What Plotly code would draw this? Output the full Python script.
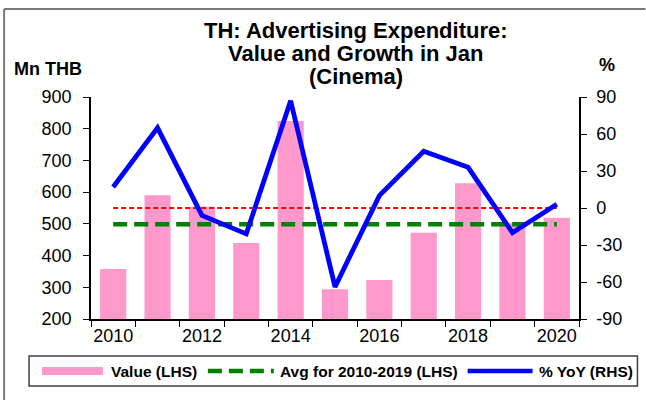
import plotly.graph_objects as go

# ---- data ----
years = ["2010", "2011", "2012", "2013", "2014", "2015", "2016", "2017", "2018", "2019", "2020"]
values_mn_thb = [358, 590, 554, 440, 824, 294, 323, 472, 628, 502, 519]
yoy_pct = [17, 65, -6, -21, 87, -64, 10, 46, 33, -20, 3]
avg_2010_2019 = 499
yoy_reference = 0
x_tick_text = ["2010", "", "2012", "", "2014", "", "2016", "", "2018", "", "2020"]
left_ticks = [200, 300, 400, 500, 600, 700, 800, 900]
right_ticks = [-90, -60, -30, 0, 30, 60, 90]
right_tick_text = ["-90", "-60", "-30", "0", "30", "60", "90"]

# ---- layout geometry (pixels) ----
W, H = 646, 400
PL, PR, PT, PB = 91, 579.5, 97, 319
FONT = "Liberation Sans, Arial, sans-serif"


def px(x):
    return (x - PL) / (PR - PL)


def py(y):
    return (PB - y) / (PB - PT)


fig = go.Figure()

fig.add_trace(go.Bar(
    x=years, y=values_mn_thb, name="Value (LHS)",
    marker=dict(color="#ff99cc", line=dict(width=0)),
    width=0.59, showlegend=False, yaxis="y",
))
fig.add_trace(go.Scatter(
    x=[years[0], years[-1]], y=[avg_2010_2019, avg_2010_2019],
    mode="lines", name="Avg for 2010-2019 (LHS)",
    line=dict(color="#008000", width=4.5, dash="14px,7px"),
    showlegend=False, yaxis="y",
))
fig.add_trace(go.Scatter(
    x=[years[0], years[-1]], y=[yoy_reference, yoy_reference],
    mode="lines", name="0%",
    line=dict(color="#ff0000", width=2, dash="5px,3px"),
    showlegend=False, yaxis="y2",
))
fig.add_trace(go.Scatter(
    x=years, y=yoy_pct, mode="lines", name="% YoY (RHS)",
    line=dict(color="#0000ff", width=4.8),
    showlegend=False, yaxis="y2",
))

shapes = []
annotations = []

# outer frame (left and top edges)
shapes.append(dict(type="line", xref="paper", yref="paper",
                   x0=px(4), x1=px(4), y0=py(9), y1=py(402),
                   line=dict(color="#7a7a7a", width=2)))
shapes.append(dict(type="line", xref="paper", yref="paper",
                   x0=px(4), x1=px(646), y0=py(9), y1=py(9),
                   line=dict(color="#7a7a7a", width=2)))

# title
title_lines = ["TH: Advertising Expenditure:", "Value and Growth in Jan", "(Cinema)"]
for i, t in enumerate(title_lines):
    annotations.append(dict(text="<b>%s</b>" % t, xref="paper", yref="paper",
                            x=px(356), y=py(30 + 23 * i), xanchor="center", yanchor="middle",
                            showarrow=False, font=dict(family=FONT, size=22, color="#000")))

# axis unit labels
annotations.append(dict(text="<b>Mn THB</b>", xref="paper", yref="paper",
                        x=px(48), y=py(69), xanchor="center", yanchor="middle",
                        showarrow=False, font=dict(family=FONT, size=18, color="#000")))
annotations.append(dict(text="<b>%</b>", xref="paper", yref="paper",
                        x=px(608), y=py(65), xanchor="center", yanchor="middle",
                        showarrow=False, font=dict(family=FONT, size=18, color="#000")))

# legend (drawn manually to match wide swatches)
LY = 371
shapes.append(dict(type="rect", xref="paper", yref="paper",
                   x0=px(29), x1=px(638), y0=py(356), y1=py(386),
                   line=dict(color="#404040", width=1.5), fillcolor="rgba(0,0,0,0)"))
shapes.append(dict(type="rect", xref="paper", yref="paper",
                   x0=px(42), x1=px(103), y0=py(LY - 4), y1=py(LY + 4),
                   line=dict(width=0), fillcolor="#ff99cc"))
shapes.append(dict(type="line", xref="paper", yref="paper",
                   x0=px(208), x1=px(274), y0=py(LY), y1=py(LY),
                   line=dict(color="#008000", width=4.5, dash="14px,7px")))
shapes.append(dict(type="line", xref="paper", yref="paper",
                   x0=px(468), x1=px(533), y0=py(LY), y1=py(LY),
                   line=dict(color="#0000ff", width=4.5)))
legend_font = dict(family=FONT, size=15.5, color="#000")
annotations.append(dict(text="<b>Value (LHS)</b>", xref="paper", yref="paper",
                        x=px(109), y=py(LY), xanchor="left", yanchor="middle",
                        showarrow=False, font=legend_font))
annotations.append(dict(text="<b>Avg for 2010-2019 (LHS)</b>", xref="paper", yref="paper",
                        x=px(460), y=py(LY), xanchor="right", yanchor="middle",
                        showarrow=False, font=legend_font))
annotations.append(dict(text="<b>% YoY (RHS)</b>", xref="paper", yref="paper",
                        x=px(537), y=py(LY), xanchor="left", yanchor="middle",
                        showarrow=False, font=legend_font))

tick_font = dict(family=FONT, size=18, color="#000")

fig.update_layout(
    width=W, height=H,
    margin=dict(l=PL, r=W - PR, t=PT, b=H - PB, pad=0, autoexpand=False),
    paper_bgcolor="white", plot_bgcolor="white",
    showlegend=False,
    bargap=0.41,
    xaxis=dict(
        type="category", tickmode="array", tickvals=years, ticktext=x_tick_text,
        tickson="boundaries", ticks="outside", ticklen=6, tickcolor="#000",
        showline=True, linecolor="#000", linewidth=1.5, showgrid=False,
        tickfont=tick_font, range=[-0.5, 10.5], zeroline=False,
        tickangle=0, automargin=False,
    ),
    yaxis=dict(
        range=[200, 900], tickvals=left_ticks, ticks="outside", ticklen=6,
        tickcolor="#000", showline=True, linecolor="#000", linewidth=1.5,
        showgrid=False, zeroline=False, tickfont=tick_font, ticklabelstandoff=8,
        automargin=False,
    ),
    yaxis2=dict(
        range=[-90, 90], tickmode="array", tickvals=right_ticks, ticktext=right_tick_text,
        overlaying="y", side="right",
        ticks="outside", ticklen=6, tickcolor="#000", showline=True,
        linecolor="#000", linewidth=1.5, showgrid=False, zeroline=False,
        tickfont=tick_font, ticklabelstandoff=6, automargin=False,
    ),
    shapes=shapes,
    annotations=annotations,
)

fig.write_html("out.html", config={"displayModeBar": False},
               post_script="document.body.style.margin='0';")
